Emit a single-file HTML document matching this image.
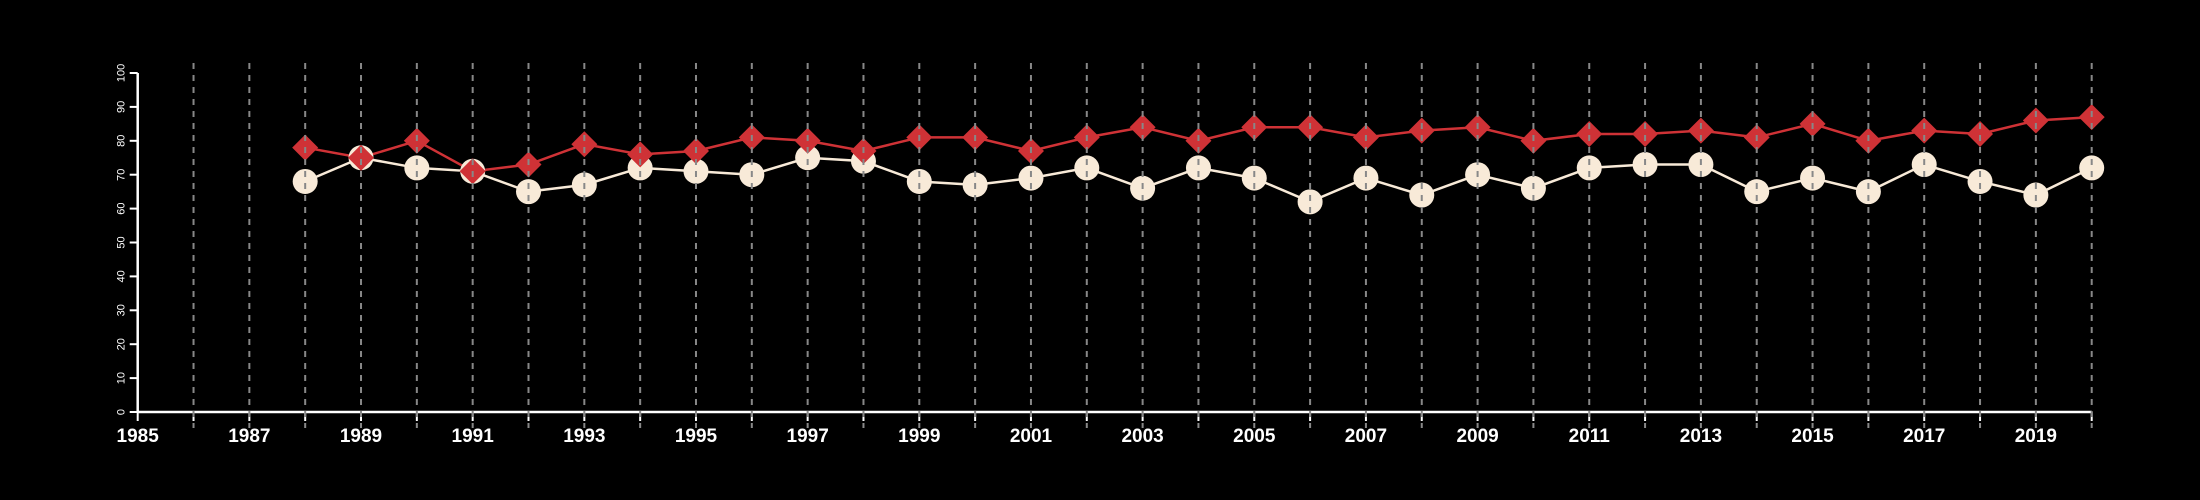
<!DOCTYPE html>
<html><head><meta charset="utf-8"><style>
html,body{margin:0;padding:0;background:#000;}
svg{display:block;font-family:"Liberation Sans",sans-serif;}
</style></head><body>
<svg id="chart" width="2200" height="500" viewBox="0 0 2200 500" xmlns="http://www.w3.org/2000/svg">
<rect width="2200" height="500" fill="#000"/>
</svg>
<script>
const years = [1988,1989,1990,1991,1992,1993,1994,1995,1996,1997,1998,1999,2000,2001,2002,2003,2004,2005,2006,2007,2008,2009,2010,2011,2012,2013,2014,2015,2016,2017,2018,2019,2020];
const redSeries = [78,75,80,71,73,79,76,77,81,80,77,81,81,77,81,84,80,84,84,81,83,84,80,82,82,83,81,85,80,83,82,86,87];
const whiteSeries = [68,75,72,71,65,67,72,71,70,75,74,68,67,69,72,66,72,69,62,69,64,70,66,72,73,73,65,69,65,73,68,64,72];
const yTicks = [0,10,20,30,40,50,60,70,80,90,100];
const xMin = 1985, xMax = 2020;

const NS = "http://www.w3.org/2000/svg";
const svg = document.getElementById('chart');
const X0 = 137.7, X1 = 2091.7, Y0 = 412, Y1 = 73;
const xs = v => X0 + (v - xMin) / (xMax - xMin) * (X1 - X0);
const ys = v => Y0 - v / 100 * (Y0 - Y1);
function mk(tag, attrs, parent) {
  const e = document.createElementNS(NS, tag);
  for (const k in attrs) e.setAttribute(k, attrs[k]);
  (parent || svg).appendChild(e);
  return e;
}
// axes
const ax = mk('g', {});


mk('line', {x1: X0, y1: Y0, x2: X1, y2: Y0, stroke: '#fff', 'stroke-width': 2.5}, ax);
mk('line', {x1: X0, y1: Y0, x2: X0, y2: Y1, stroke: '#fff', 'stroke-width': 2.5}, ax);
yTicks.forEach(t => {
  const y = ys(t);
  mk('line', {x1: X0 - 8, y1: y, x2: X0, y2: y, stroke: '#fff', 'stroke-width': 2}, ax);
  const tx = mk('text', {x: 0, y: 0, fill: '#fff', 'font-size': 11, 'text-anchor': 'middle', transform: `translate(${X0 - 16},${y}) rotate(-90)`}, ax);
  
  
  tx.setAttribute('dominant-baseline', 'middle');
  tx.textContent = t;
});
for (let yr = xMin; yr <= xMax; yr++) {
  const x = xs(yr);
  mk('line', {x1: x, y1: Y0, x2: x, y2: Y0 + 9, stroke: '#fff', 'stroke-width': 2}, ax);
  if ((yr - xMin) % 2 === 0) {
    const tx = mk('text', {x: x, y: Y0 + 30, fill: '#fff', 'font-size': 19, 'font-weight': 'bold', 'text-anchor': 'middle'}, ax);
    
    
    tx.textContent = yr;
  }
}
function line(vals, color, name) {
  const p = mk('polyline', {points: years.map((y, i) => xs(y) + ',' + ys(vals[i])).join(' '), fill: 'none', stroke: color, 'stroke-width': 2.5});
  
  
}
line(whiteSeries, '#f8ead8', 'white-series-line');
line(redSeries, '#cf3236', 'red-series-line');
years.forEach((yr, i) => {
  const c = mk('circle', {cx: xs(yr), cy: ys(whiteSeries[i]), r: 12.5, fill: '#f8ead8'});
  
  
});
years.forEach((yr, i) => {
  const x = xs(yr), y = ys(redSeries[i]), s = 13;
  const d = mk('polygon', {points: `${x},${y - s} ${x + s},${y} ${x},${y + s} ${x - s},${y}`, fill: '#cf3236'});
  
  
});
// dashed gridlines on top
for (let yr = xMin + 1; yr <= xMax; yr++) {
  const x = xs(yr);
  const g = mk('line', {x1: x, y1: 63, x2: x, y2: 428, stroke: '#888', 'stroke-width': 2, 'stroke-dasharray': '6,6'});
  
  
}
</script>
</body></html>
